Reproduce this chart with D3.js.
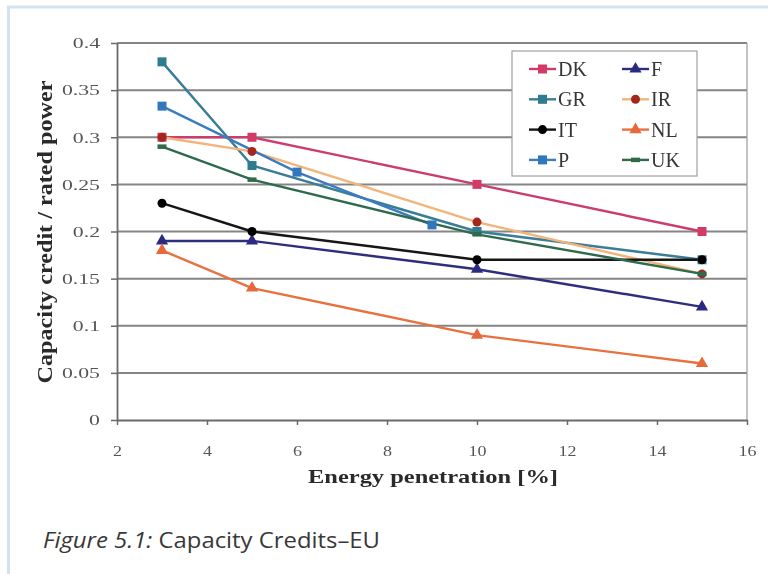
<!DOCTYPE html>
<html>
<head>
<meta charset="utf-8">
<script src="https://cdn.jsdelivr.net/npm/d3@7"></script>
<style>
  html, body { margin: 0; padding: 0; background: #ffffff; }
  svg { display: block; }
</style>
</head>
<body>
<svg id="chart" width="768" height="574"></svg>
<script>
// Capacity credit of wind power versus energy penetration, by country
const countries = ["DK", "F", "GR", "IR", "IT", "NL", "P", "UK"];
const penetration = [3, 5, 10, 15];
const penetrationP = [3, 6, 9];
const valuesDK = [0.30, 0.30, 0.25, 0.20];
const valuesF  = [0.19, 0.19, 0.16, 0.12];
const valuesGR = [0.38, 0.27, 0.20, 0.17];
const valuesIR = [0.30, 0.285, 0.21, 0.155];
const valuesIT = [0.23, 0.20, 0.17, 0.17];
const valuesNL = [0.18, 0.14, 0.09, 0.06];
const valuesP  = [0.333, 0.263, 0.207];
const valuesUK = [0.29, 0.255, 0.197, 0.155];
const xTicks = [2, 4, 6, 8, 10, 12, 14, 16];
const yTicks = [0, 0.05, 0.1, 0.15, 0.2, 0.25, 0.3, 0.35, 0.4];
const yTickLabels = ["0", "0.05", "0.1", "0.15", "0.2", "0.25", "0.3", "0.35", "0.4"];

const series = [
  { name: "DK", xs: penetration,  ys: valuesDK, line: "#cc3d6c", mark: "#d23a66", shape: "square" },
  { name: "F",  xs: penetration,  ys: valuesF,  line: "#2e2f7e", mark: "#2b2c80", shape: "triangle" },
  { name: "GR", xs: penetration,  ys: valuesGR, line: "#3b7b96", mark: "#2f7b90", shape: "square" },
  { name: "IR", xs: penetration,  ys: valuesIR, line: "#f2b47a", mark: "#a5281e", shape: "circle" },
  { name: "IT", xs: penetration,  ys: valuesIT, line: "#141414", mark: "#000000", shape: "circle" },
  { name: "NL", xs: penetration,  ys: valuesNL, line: "#e8713f", mark: "#e8683a", shape: "triangle" },
  { name: "P",  xs: penetrationP, ys: valuesP,  line: "#3a7cc0", mark: "#3377bb", shape: "square" },
  { name: "UK", xs: penetration,  ys: valuesUK, line: "#2e6a4e", mark: "#2f6a48", shape: "plus" }
];

const svg = d3.select("#chart");

// slight softening for the plotted figure
const defs = svg.append("defs");
defs.append("filter").attr("id", "soft").attr("x", "-5%").attr("y", "-5%")
  .attr("width", "110%").attr("height", "110%")
  .append("feGaussianBlur").attr("stdDeviation", 0.55);

// page frame
svg.append("line").attr("x1", 7).attr("x2", 768).attr("y1", 7).attr("y2", 7)
  .attr("stroke", "#d3e2ef").attr("stroke-width", 3);
svg.append("line").attr("x1", 8.5).attr("x2", 8.5).attr("y1", 6).attr("y2", 574)
  .attr("stroke", "#d3e2ef").attr("stroke-width", 3);

const plot = { left: 117, right: 747, top: 43, bottom: 420 };
const x = d3.scaleLinear().domain([2, 16]).range([plot.left, plot.right]);
const y = d3.scaleLinear().domain([0, 0.4]).range([plot.bottom, plot.top]);

const chart = svg.append("g").attr("filter", "url(#soft)");

// horizontal gridlines
chart.append("g").selectAll("line").data(yTicks.filter(v => v > 0)).join("line")
  .attr("x1", plot.left).attr("x2", plot.right)
  .attr("y1", d => y(d)).attr("y2", d => y(d))
  .attr("stroke", "#858585").attr("stroke-width", 2);

// right border of the plot area
chart.append("line").attr("x1", plot.right).attr("x2", plot.right)
  .attr("y1", plot.top).attr("y2", plot.bottom)
  .attr("stroke", "#9a9a9a").attr("stroke-width", 1.2);

// axes
const xAxis = d3.axisBottom(x).tickValues(xTicks).tickSize(5).tickSizeOuter(0).tickPadding(20)
  .tickFormat(d3.format("d"));
const yAxis = d3.axisLeft(y).tickValues(yTicks).tickSize(6).tickSizeOuter(0).tickPadding(11)
  .tickFormat((d, i) => yTickLabels[i]);

const gx = chart.append("g").attr("transform", `translate(0,${plot.bottom})`).call(xAxis);
const gy = chart.append("g").attr("transform", `translate(${plot.left},0)`).call(yAxis);
[gx, gy].forEach(g => {
  g.select(".domain").attr("stroke", "#6a6a6a").attr("stroke-width", 1.8);
  g.selectAll(".tick line").attr("stroke", "#6a6a6a").attr("stroke-width", 1.5);
  g.selectAll("text").attr("font-family", "'Liberation Serif', serif")
    .attr("font-size", 15).attr("fill", "#555555");
});
// the tick labels are set wide: stretch them horizontally about their anchor
gy.selectAll(".tick text").each(function () {
  const t = d3.select(this);
  const tx = +t.attr("x");
  t.attr("transform", `translate(${tx},0) scale(1.45,1) translate(${-tx},0)`);
});
gx.selectAll(".tick text").attr("transform", "scale(1.2,1)");

// axis titles
chart.append("text")
  .attr("x", 433).attr("y", 483)
  .attr("text-anchor", "middle")
  .attr("font-family", "'Liberation Serif', serif").attr("font-weight", "bold")
  .attr("font-size", 19).attr("fill", "#2a2a2a")
  .attr("textLength", 250).attr("lengthAdjust", "spacingAndGlyphs")
  .text("Energy penetration [%]");

chart.append("text")
  .attr("transform", "translate(52,232) rotate(-90)")
  .attr("text-anchor", "middle")
  .attr("font-family", "'Liberation Serif', serif").attr("font-weight", "bold")
  .attr("font-size", 22).attr("fill", "#2a2a2a")
  .attr("textLength", 303).attr("lengthAdjust", "spacingAndGlyphs")
  .text("Capacity credit / rated power");

// marker shapes
function drawMarker(g, shape, color, size) {
  if (shape === "square") {
    g.append("rect").attr("x", -size / 2).attr("y", -size / 2)
      .attr("width", size).attr("height", size).attr("fill", color);
  } else if (shape === "circle") {
    g.append("circle").attr("r", size / 2).attr("fill", color);
  } else if (shape === "triangle") {
    g.append("path").attr("d", d3.symbol(d3.symbolTriangle, size * size * 0.8)()).attr("fill", color);
  } else if (shape === "plus") {
    g.append("rect").attr("x", -size / 2).attr("y", -size / 4)
      .attr("width", size).attr("height", size / 2).attr("fill", color);
  }
}

const lineGen = d3.line().x(d => x(d[0])).y(d => y(d[1]));

// series lines, then markers
const seriesG = chart.append("g");
series.forEach(s => {
  const pts = s.xs.map((v, i) => [v, s.ys[i]]);
  seriesG.append("path").datum(pts)
    .attr("d", lineGen)
    .attr("fill", "none").attr("stroke", s.line).attr("stroke-width", 2.4);
});
series.forEach(s => {
  s.xs.forEach((v, i) => {
    const g = seriesG.append("g").attr("transform", `translate(${x(v)},${y(s.ys[i])})`);
    drawMarker(g, s.shape, s.mark, 9);
  });
});

// legend
const legend = chart.append("g");
legend.append("rect").attr("x", 512).attr("y", 51).attr("width", 185).attr("height", 125)
  .attr("fill", "#ffffff").attr("stroke", "#a0a0a0").attr("stroke-width", 1.2);
series.forEach((s, i) => {
  const col = i % 2, row = Math.floor(i / 2);
  const lx = col === 0 ? 529 : 622;
  const ly = 69 + row * 30.3;
  const g = legend.append("g");
  g.append("line").attr("x1", lx).attr("x2", lx + 27).attr("y1", ly).attr("y2", ly)
    .attr("stroke", s.line).attr("stroke-width", 2.4);
  const mg = g.append("g").attr("transform", `translate(${lx + 13.5},${ly})`);
  drawMarker(mg, s.shape, s.mark, 9);
  g.append("text").attr("x", lx + 29).attr("y", ly + 7)
    .attr("font-family", "'Liberation Serif', serif").attr("font-size", 20)
    .attr("fill", "#363636").text(s.name);
});

// caption
const cap = svg.append("text").attr("x", 43).attr("y", 548)
  .attr("font-family", "'Open Sans', Lato, sans-serif").attr("font-size", 22)
  .attr("font-weight", 400)
  .attr("fill", "#383838")
  .attr("textLength", 337).attr("lengthAdjust", "spacingAndGlyphs");
cap.append("tspan").attr("font-style", "italic").text("Figure 5.1:");
cap.append("tspan").text(" Capacity Credits–EU");
</script>
</body>
</html>
